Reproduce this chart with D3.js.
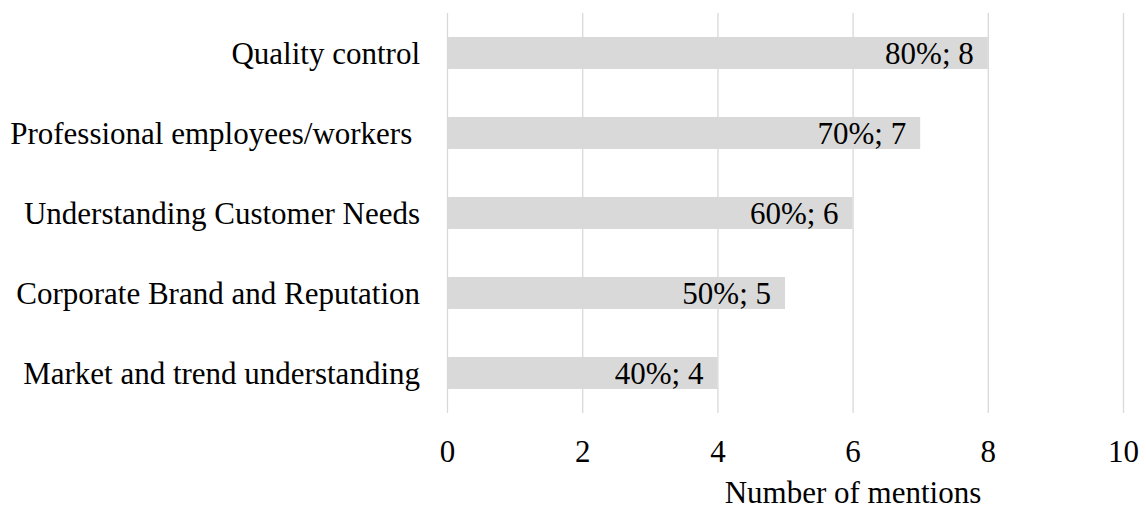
<!DOCTYPE html>
<html>
<head>
<meta charset="utf-8">
<script src="https://cdn.jsdelivr.net/npm/d3@7"></script>
<style>
  html, body { margin: 0; padding: 0; background: #fff; }
  svg { display: block; }
</style>
</head>
<body>
<svg id="chart" width="1146" height="509"></svg>
<script>
// Success factors and how often each was mentioned
const categories = [
  "Quality control",
  "Professional employees/workers ",
  "Understanding Customer Needs",
  "Corporate Brand and Reputation",
  "Market and trend understanding"
];
const mentions = [8, 7, 6, 5, 4];
const shares = ["80%", "70%", "60%", "50%", "40%"];
const xTicks = [0, 2, 4, 6, 8, 10];
const axisTitle = "Number of mentions";

const svg = d3.select("#chart");
const font = "'Liberation Serif', 'Times New Roman', serif";
const fontSize = 31;

const plotLeft = 447, plotRight = 1123, plotTop = 13, plotBottom = 413;

const x = d3.scaleLinear().domain([0, 10]).range([plotLeft, plotRight]);
const y = d3.scaleBand().domain(categories).range([plotTop, plotBottom]).paddingInner(0.6).paddingOuter(0.3);

// vertical gridlines
svg.append("g")
  .selectAll("line")
  .data(xTicks)
  .join("line")
  .attr("x1", d => x(d) + 0.5)
  .attr("x2", d => x(d) + 0.5)
  .attr("y1", plotTop)
  .attr("y2", plotBottom)
  .attr("stroke", "#d9d9d9")
  .attr("stroke-width", 1.3);

// bars
svg.append("g")
  .selectAll("rect")
  .data(categories)
  .join("rect")
  .attr("x", x(0))
  .attr("y", d => y(d))
  .attr("width", (d, i) => x(mentions[i]) - x(0))
  .attr("height", y.bandwidth())
  .attr("fill", "#d9d9d9");

// value labels inside bar ends
svg.append("g")
  .selectAll("text")
  .data(categories)
  .join("text")
  .attr("x", (d, i) => x(mentions[i]) - 14)
  .attr("y", d => y(d) + y.bandwidth() / 2)
  .attr("dy", "0.35em")
  .attr("text-anchor", "end")
  .attr("font-family", font)
  .attr("font-size", fontSize)
  .attr("fill", "#000")
  .text((d, i) => `${shares[i]}; ${mentions[i]}`);

// category axis labels
svg.append("g")
  .selectAll("text")
  .data(categories)
  .join("text")
  .attr("x", 420)
  .attr("y", d => y(d) + y.bandwidth() / 2)
  .attr("dy", "0.35em")
  .attr("text-anchor", "end")
  .attr("font-family", font)
  .attr("font-size", fontSize)
  .attr("fill", "#000")
  .style("white-space", "pre")
  .text(d => d);

// x axis tick labels
const xAxis = d3.axisBottom(x).tickValues(xTicks).tickSize(0).tickPadding(0);
const gx = svg.append("g").attr("transform", `translate(0, 462)`).call(xAxis);
gx.select(".domain").remove();
gx.selectAll("text")
  .attr("font-family", font)
  .attr("font-size", fontSize)
  .attr("fill", "#000")
  .attr("y", 0)
  .attr("dy", 0);

// axis title
svg.append("text")
  .attr("x", 853)
  .attr("y", 503)
  .attr("text-anchor", "middle")
  .attr("font-family", font)
  .attr("font-size", fontSize)
  .attr("fill", "#000")
  .text(axisTitle);
</script>
</body>
</html>
